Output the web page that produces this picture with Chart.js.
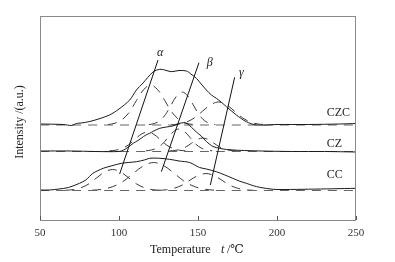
<!DOCTYPE html>
<html>
<head>
<meta charset="utf-8">
<script src="https://cdn.jsdelivr.net/npm/chart.js@4.4.1/dist/chart.umd.min.js"></script>
<style>
  html, body { margin: 0; padding: 0; background: #fff; }
  #grafica { display: block; }
</style>
</head>
<body>
<canvas id="grafica" width="395" height="262"></canvas>
<script>
// measured curves, [temperature, intensity] (intensity in arbitrary units, offset per sample)
const czcCurve = [[50,96],[65,95.5],[70,94.5],[73,96.5],[76,97],[81.5,98.5],[88,101.5],[94,105],[100,111],[106.8,120],[111,130],[115.2,137],[121.5,148],[125.8,150.7],[129,150],[133,148.3],[138,149.5],[142.7,149],[145.5,146],[149,141.7],[152,136],[155.3,130],[158.5,125],[161.6,121.7],[165,117.5],[168,113.3],[174.3,105],[180.6,98.3],[187,95],[200,95.5],[220,95.5],[240,96],[250,96.5]];
const czCurve = [[50,69],[70,69],[85,68.5],[100,68.5],[103,70],[106,73],[109,76.7],[112,79.5],[114,81.7],[117,85],[119.4,86.7],[122,89],[125.8,91.7],[130,93],[134,94],[138,96.5],[141,97.3],[143.5,96],[146,92.5],[149,88],[152,84],[155.3,78.5],[159.5,73.5],[163.7,71.7],[168,70.5],[176,69.7],[190,69],[210,68.5],[230,68.5],[250,68]];
const ccCurve = [[50,30],[56,30],[62,31],[68,32.5],[75,36.7],[79,40],[83.5,46.7],[90,51.7],[95,54],[101.5,56.7],[111,58.3],[116,60],[119.4,61.7],[125,61.8],[132,60.7],[138,59],[144.7,57.5],[151,52.5],[155.3,51],[161.6,48.3],[167,45],[172,41.7],[176,39],[180.6,36.7],[185,34.3],[189,32.7],[197.5,30.7],[205,30.5],[220,30.8],[235,31.2],[250,31.7]];

// fitted baselines
const czcBase = [[50,95],[250,95]];
const czBase = [[50,68.5],[250,68.5]];
const ccBase = [[50,29.5],[250,29.5]];

// deconvoluted peaks (dashed)
const czcAlpha = [[93,95.4],[97.5,96.8],[102,100.4],[106.5,107.8],[111,119.4],[115.5,130.2],[120,135],[124.5,130.2],[129,119.4],[133.5,107.8],[138,100.4],[142.5,96.8],[147,95.4]];
const czcBeta = [[119,95.4],[122.5,96.5],[126,99.5],[129.5,105.6],[133,115.1],[136.5,124],[140,128],[143.5,124],[147,115.1],[150.5,105.6],[154,99.5],[157.5,96.5],[161,95.4]];
const czcGamma = [[133,95.3],[138,96],[143,98.1],[148,102.4],[153,109],[158,115.2],[163,118],[168,115.2],[173,109],[178,102.4],[183,98.1],[188,96],[193,95.3]];
const czAlpha = [[94,69.2],[98,69.8],[102,71.6],[106,75.1],[110,80.6],[114,85.7],[118,88],[122,85.7],[126,80.6],[130,75.1],[134,71.6],[138,69.8],[142,69.2]];
const czBeta = [[117,69.2],[120.5,70],[124,72],[127.5,76],[131,82.4],[134.5,88.4],[138,91],[141.5,88.4],[145,82.4],[148.5,76],[152,72],[155.5,70],[159,69.2]];
const czGamma = [[132,69.1],[135.5,69.6],[139,70.8],[142.5,73.2],[146,76.9],[149.5,80.4],[153,82],[156.5,80.4],[160,76.9],[163.5,73.2],[167,70.8],[170.5,69.6],[174,69.1]];
const ccAlpha = [[66,29.7],[71,30.4],[76,32.3],[81,36.2],[86,42.3],[91,48],[96,50.5],[101,48],[106,42.3],[111,36.2],[116,32.3],[121,30.4],[126,29.7]];
const ccBeta = [[83,29.8],[89.5,30.7],[96,33.3],[102.5,38.5],[109,46.6],[115.5,54.1],[122,57.5],[128.5,54.1],[135,46.6],[141.5,38.5],[148,33.3],[154.5,30.7],[161,29.8]];
const ccGamma = [[125,29.7],[130,30.2],[135,31.8],[140,34.9],[145,39.9],[150,44.5],[155,46.5],[160,44.5],[165,39.9],[170,34.9],[175,31.8],[180,30.2],[185,29.7]];

// peak position guide lines
const alphaLine = [[124.7,160],[100.4,46]];
const betaLine = [[150.6,157.3],[126.8,48.3]];
const gammaLine = [[173.2,142.7],[157.8,35]];

const sampleNames = ["CZC", "CZ", "CC"];
const sampleLabelPos = [[231.5,107],[231.5,76],[231.5,45]];
const peakNames = ["α", "β", "γ"];
const peakLabelPos = [[126,167],[157.5,157],[177.5,147]];

const xTicks = [50, 100, 150, 200, 250];

const serif = "'Liberation Serif', 'DejaVu Serif', serif";

function pts(arr) {
  return arr.map(p => ({ x: p[0], y: p[1] }));
}

function solid(arr) {
  return { data: pts(arr), borderColor: "#1a1a1a", borderWidth: 1, pointRadius: 0, showLine: true, tension: 0.3, order: 0 };
}

function dashed(arr, color) {
  return { data: pts(arr), borderColor: color || "#3a3a3a", borderWidth: 1, borderDash: [9, 7], pointRadius: 0, showLine: true, tension: 0.35, order: 2 };
}

function guide(arr) {
  return { data: pts(arr), borderColor: "#111", borderWidth: 1, pointRadius: 0, showLine: true, tension: 0, order: 1 };
}

const decor = {
  id: "decor",
  afterDraw(chart) {
    const ctx = chart.ctx;
    const a = chart.chartArea;
    const xs = chart.scales.x;
    const ys = chart.scales.y;
    ctx.save();
    // frame
    ctx.strokeStyle = "#8a8a8a";
    ctx.lineWidth = 1;
    ctx.strokeRect(a.left + 0.5, a.top + 0.5, a.right - a.left - 1, a.bottom - a.top);
    // inward ticks
    ctx.strokeStyle = "#555";
    xs.ticks.forEach(t => {
      const px = Math.round(xs.getPixelForValue(t.value)) + 0.5;
      ctx.beginPath();
      ctx.moveTo(px, a.bottom);
      ctx.lineTo(px, a.bottom - 4);
      ctx.stroke();
    });
    ctx.fillStyle = "#222";
    ctx.textBaseline = "middle";
    // sample labels
    ctx.font = "12px " + serif;
    ctx.textAlign = "left";
    sampleNames.forEach((n, i) => {
      ctx.fillText(n, xs.getPixelForValue(sampleLabelPos[i][0]), ys.getPixelForValue(sampleLabelPos[i][1]));
    });
    // peak labels
    ctx.font = "italic 12px " + serif;
    ctx.textAlign = "center";
    peakNames.forEach((n, i) => {
      ctx.fillText(n, xs.getPixelForValue(peakLabelPos[i][0]), ys.getPixelForValue(peakLabelPos[i][1]));
    });
    // x title
    ctx.textAlign = "left";
    ctx.font = "12px " + serif;
    ctx.fillText("Temperature", 150, 250);
    ctx.font = "italic 12px " + serif;
    ctx.fillText("t", 221, 250);
    ctx.font = "12px " + serif;
    ctx.fillText(" /℃", 224, 250);
    // y title
    ctx.translate(20, 122);
    ctx.rotate(-Math.PI / 2);
    ctx.textAlign = "center";
    ctx.fillText("Intensity /(a.u.)", 0, 0);
    ctx.restore();
  }
};

new Chart(document.getElementById("grafica").getContext("2d"), {
  type: "scatter",
  data: {
    datasets: [
      solid(czcCurve), solid(czCurve), solid(ccCurve),
      dashed(czcBase, "#666"), dashed(czBase, "#666"), dashed(ccBase, "#666"),
      dashed(czcAlpha), dashed(czcBeta), dashed(czcGamma),
      dashed(czAlpha), dashed(czBeta), dashed(czGamma),
      dashed(ccAlpha), dashed(ccBeta), dashed(ccGamma),
      guide(alphaLine), guide(betaLine), guide(gammaLine)
    ]
  },
  options: {
    responsive: false,
    animation: false,
    layout: { padding: { left: 40, right: 39, top: 16, bottom: 0 } },
    plugins: { legend: { display: false }, tooltip: { enabled: false } },
    scales: {
      x: {
        type: "linear",
        min: 50,
        max: 250,
        afterBuildTicks: s => { s.ticks = xTicks.map(v => ({ value: v })); },
        afterFit: s => { s.height = 42; },
        grid: { display: false, drawTicks: false },
        border: { display: false },
        ticks: { padding: 7, color: "#333", font: { family: serif, size: 11 } }
      },
      y: {
        min: 0,
        max: 204,
        display: false
      }
    }
  },
  plugins: [decor]
});
</script>
</body>
</html>
